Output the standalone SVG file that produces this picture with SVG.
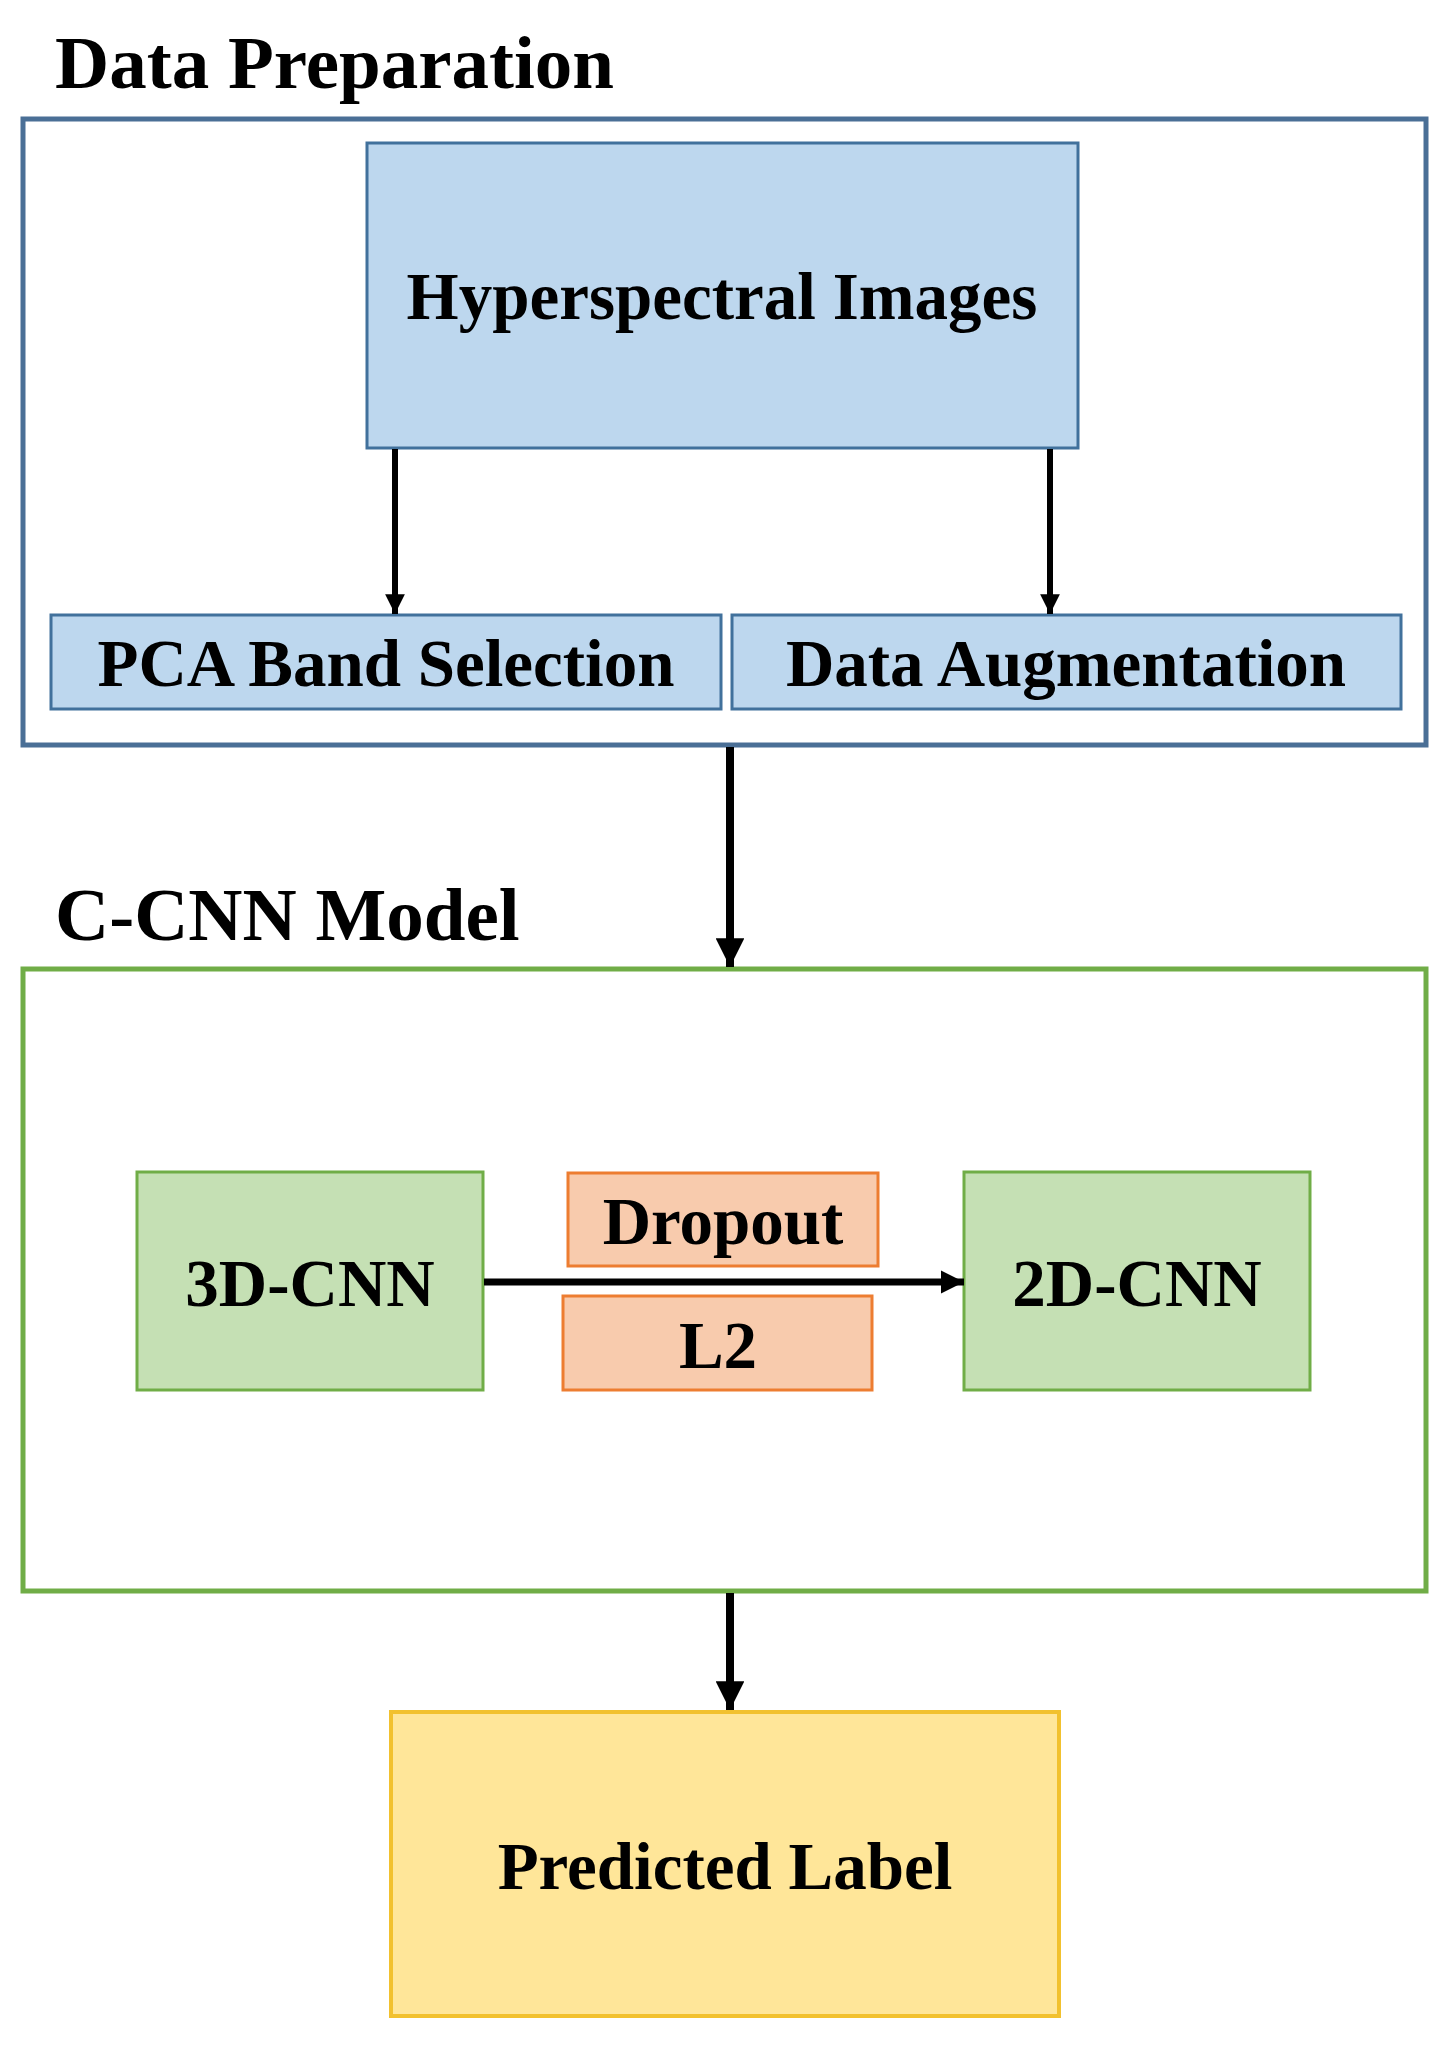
<svg xmlns="http://www.w3.org/2000/svg" width="1447" height="2048" viewBox="0 0 1447 2048">
<style>
text{font-family:"Liberation Serif","Times New Roman",serif;font-weight:bold;fill:#000}
.title{font-size:75px}
.lbl{font-size:67px;text-anchor:middle}
.blue{fill:#bdd7ee;stroke:#41719c;stroke-width:3}
.green{fill:#c5e0b4;stroke:#70ad47;stroke-width:3}
.orange{fill:#f8cbad;stroke:#ed7d31;stroke-width:3}
.yellow{fill:#ffe699;stroke:#f2c12e;stroke-width:4}
.conn{stroke:#000;fill:none}
</style>
<defs>
<marker id="ah" viewBox="0 0 10 10" refX="10" refY="5" markerWidth="3.3" markerHeight="3.3" markerUnits="strokeWidth" orient="auto">
<path d="M0,0 L10,5 L0,10 Z" fill="#000"/>
</marker>
<marker id="ahb" viewBox="0 0 10 10" refX="10" refY="5" markerWidth="3.6" markerHeight="3.6" markerUnits="strokeWidth" orient="auto">
<path d="M0,0 L10,5 L0,10 Z" fill="#000"/>
</marker>
</defs>
<rect width="1447" height="2048" fill="#fff"/>

<g id="data-preparation">
<text class="title" x="55" y="88">Data Preparation</text>
<rect x="23" y="119" width="1403" height="626" fill="none" stroke="#4a6f96" stroke-width="5"/>
</g>

<g id="hyperspectral-images">
<rect class="blue" x="367" y="143" width="711" height="305"/>
<text class="lbl" x="722" y="319">Hyperspectral Images</text>
</g>

<g id="pca-band-selection">
<rect class="blue" x="51" y="615" width="670" height="94"/>
<text class="lbl" x="386" y="686">PCA Band Selection</text>
</g>

<g id="data-augmentation">
<rect class="blue" x="732" y="615" width="669" height="94"/>
<text class="lbl" x="1066" y="686">Data Augmentation</text>
</g>

<g id="c-cnn-model">
<text class="title" x="55" y="940">C-CNN Model</text>
<rect x="23" y="969" width="1403" height="622" fill="none" stroke="#70ad47" stroke-width="5"/>
</g>

<g id="3d-cnn">
<rect class="green" x="137" y="1172" width="346" height="218"/>
<text class="lbl" x="310" y="1306">3D-CNN</text>
</g>

<g id="2d-cnn">
<rect class="green" x="964" y="1172" width="346" height="218"/>
<text class="lbl" x="1137" y="1306">2D-CNN</text>
</g>

<g id="dropout">
<rect class="orange" x="568" y="1173" width="310" height="93"/>
<text class="lbl" x="723" y="1244">Dropout</text>
</g>

<g id="l2">
<rect class="orange" x="563" y="1296" width="309" height="94"/>
<text class="lbl" x="718" y="1368">L2</text>
</g>

<g id="predicted-label">
<rect class="yellow" x="391" y="1712" width="668" height="304"/>
<text class="lbl" x="725" y="1889">Predicted Label</text>
</g>

<g id="connectors">
<line class="conn" x1="395" y1="449" x2="395" y2="614" stroke-width="6" marker-end="url(#ah)"/>
<line class="conn" x1="1050" y1="449" x2="1050" y2="614" stroke-width="6" marker-end="url(#ah)"/>
<line class="conn" x1="730" y1="747" x2="730" y2="967" stroke-width="8" marker-end="url(#ahb)"/>
<line class="conn" x1="484" y1="1282" x2="964" y2="1282" stroke-width="7" marker-end="url(#ah)"/>
<line class="conn" x1="730" y1="1593" x2="730" y2="1710" stroke-width="8" marker-end="url(#ahb)"/>
</g>
</svg>
